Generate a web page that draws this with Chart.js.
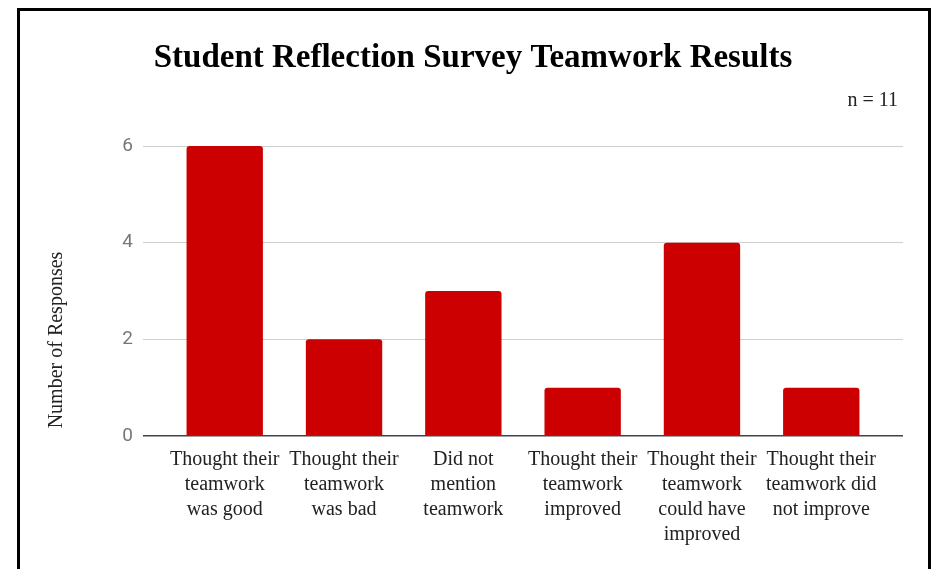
<!DOCTYPE html>
<html>
<head>
<meta charset="utf-8">
<script src="https://cdn.jsdelivr.net/npm/chart.js@4/dist/chart.umd.min.js"></script>
<style>
  html, body { margin: 0; padding: 0; background: #fff; }
  #wrap { position: relative; width: 932px; height: 569px; overflow: hidden; }
  #frame { position: absolute; left: 17px; top: 8px; width: 908px; height: 600px;
           border: 3px solid #000; box-sizing: content-box; pointer-events: none; }
  canvas { position: absolute; left: 0; top: 0; }
</style>
</head>
<body>
<div id="wrap">
  <canvas id="c" width="932" height="569"></canvas>
  <div id="frame"></div>
</div>
<script>
const chartTitle = 'Student Reflection Survey Teamwork Results';
const sampleNote = 'n = 11';
const yAxisTitle = 'Number of Responses';
const categories = [
  ['Thought their', 'teamwork', 'was good'],
  ['Thought their', 'teamwork', 'was bad'],
  ['Did not', 'mention', 'teamwork'],
  ['Thought their', 'teamwork', 'improved'],
  ['Thought their', 'teamwork', 'could have', 'improved'],
  ['Thought their', 'teamwork did', 'not improve']
];
const responses = [6, 2, 3, 1, 4, 1];
const yTicks = [0, 2, 4, 6];

const SERIF = '"Liberation Serif", "Times New Roman", serif';
const EXTRA = 0.185; // extra category space on each side

const annotations = {
  id: 'annotations',
  afterDraw(chart) {
    const c = chart.ctx;
    c.save();
    c.fillStyle = '#000';
    c.textBaseline = 'middle';
    c.textAlign = 'center';
    c.font = 'bold 33px ' + SERIF;
    c.fillText(chartTitle, 473, 58);
    c.font = '20px ' + SERIF;
    c.fillStyle = '#222';
    c.textAlign = 'right';
    c.fillText(sampleNote, 898, 101);
    c.translate(57, 340);
    c.rotate(-Math.PI / 2);
    c.textAlign = 'center';
    c.fillText(yAxisTitle, 0, 0);
    c.restore();
  }
};

new Chart(document.getElementById('c'), {
  type: 'bar',
  data: {
    labels: categories,
    datasets: [{
      data: responses,
      backgroundColor: '#cc0000',
      borderRadius: 3,
      borderSkipped: 'start',
      categoryPercentage: 0.64,
      barPercentage: 1.0
    }]
  },
  options: {
    responsive: false,
    animation: false,
    events: [],
    layout: { padding: { left: 0, right: 29, top: 146, bottom: 0 } },
    plugins: { legend: { display: false }, title: { display: false }, tooltip: { enabled: false } },
    scales: {
      x: {
        offset: true,
        grid: { display: false, drawTicks: false },
        border: { display: false },
        afterBuildTicks(s) {
          s._startValue = -0.5 - EXTRA;
          s._valueRange = categories.length + 2 * EXTRA;
        },
        afterFit(s) { s.height = 133; },
        ticks: {
          autoSkip: false, maxRotation: 0, minRotation: 0,
          padding: 11,
          color: '#222',
          font: { family: SERIF, size: 20, lineHeight: '25px' }
        }
      },
      y: {
        min: 0, max: 6,
        afterBuildTicks(s) { s.ticks = yTicks.map(v => ({ value: v })); },
        afterFit(s) { s.width = 143; },
        border: { display: false },
        grid: {
          drawTicks: false,
          color: ctx => (ctx.tick && ctx.tick.value === 0) ? '#444' : '#cfcfcf',
          lineWidth: ctx => (ctx.tick && ctx.tick.value === 0) ? 1.5 : 1
        },
        ticks: {
          padding: 10,
          color: '#777',
          font: { family: 'Roboto, "Noto Sans", sans-serif', size: 19 }
        }
      }
    }
  },
  plugins: [annotations]
});
</script>
</body>
</html>
